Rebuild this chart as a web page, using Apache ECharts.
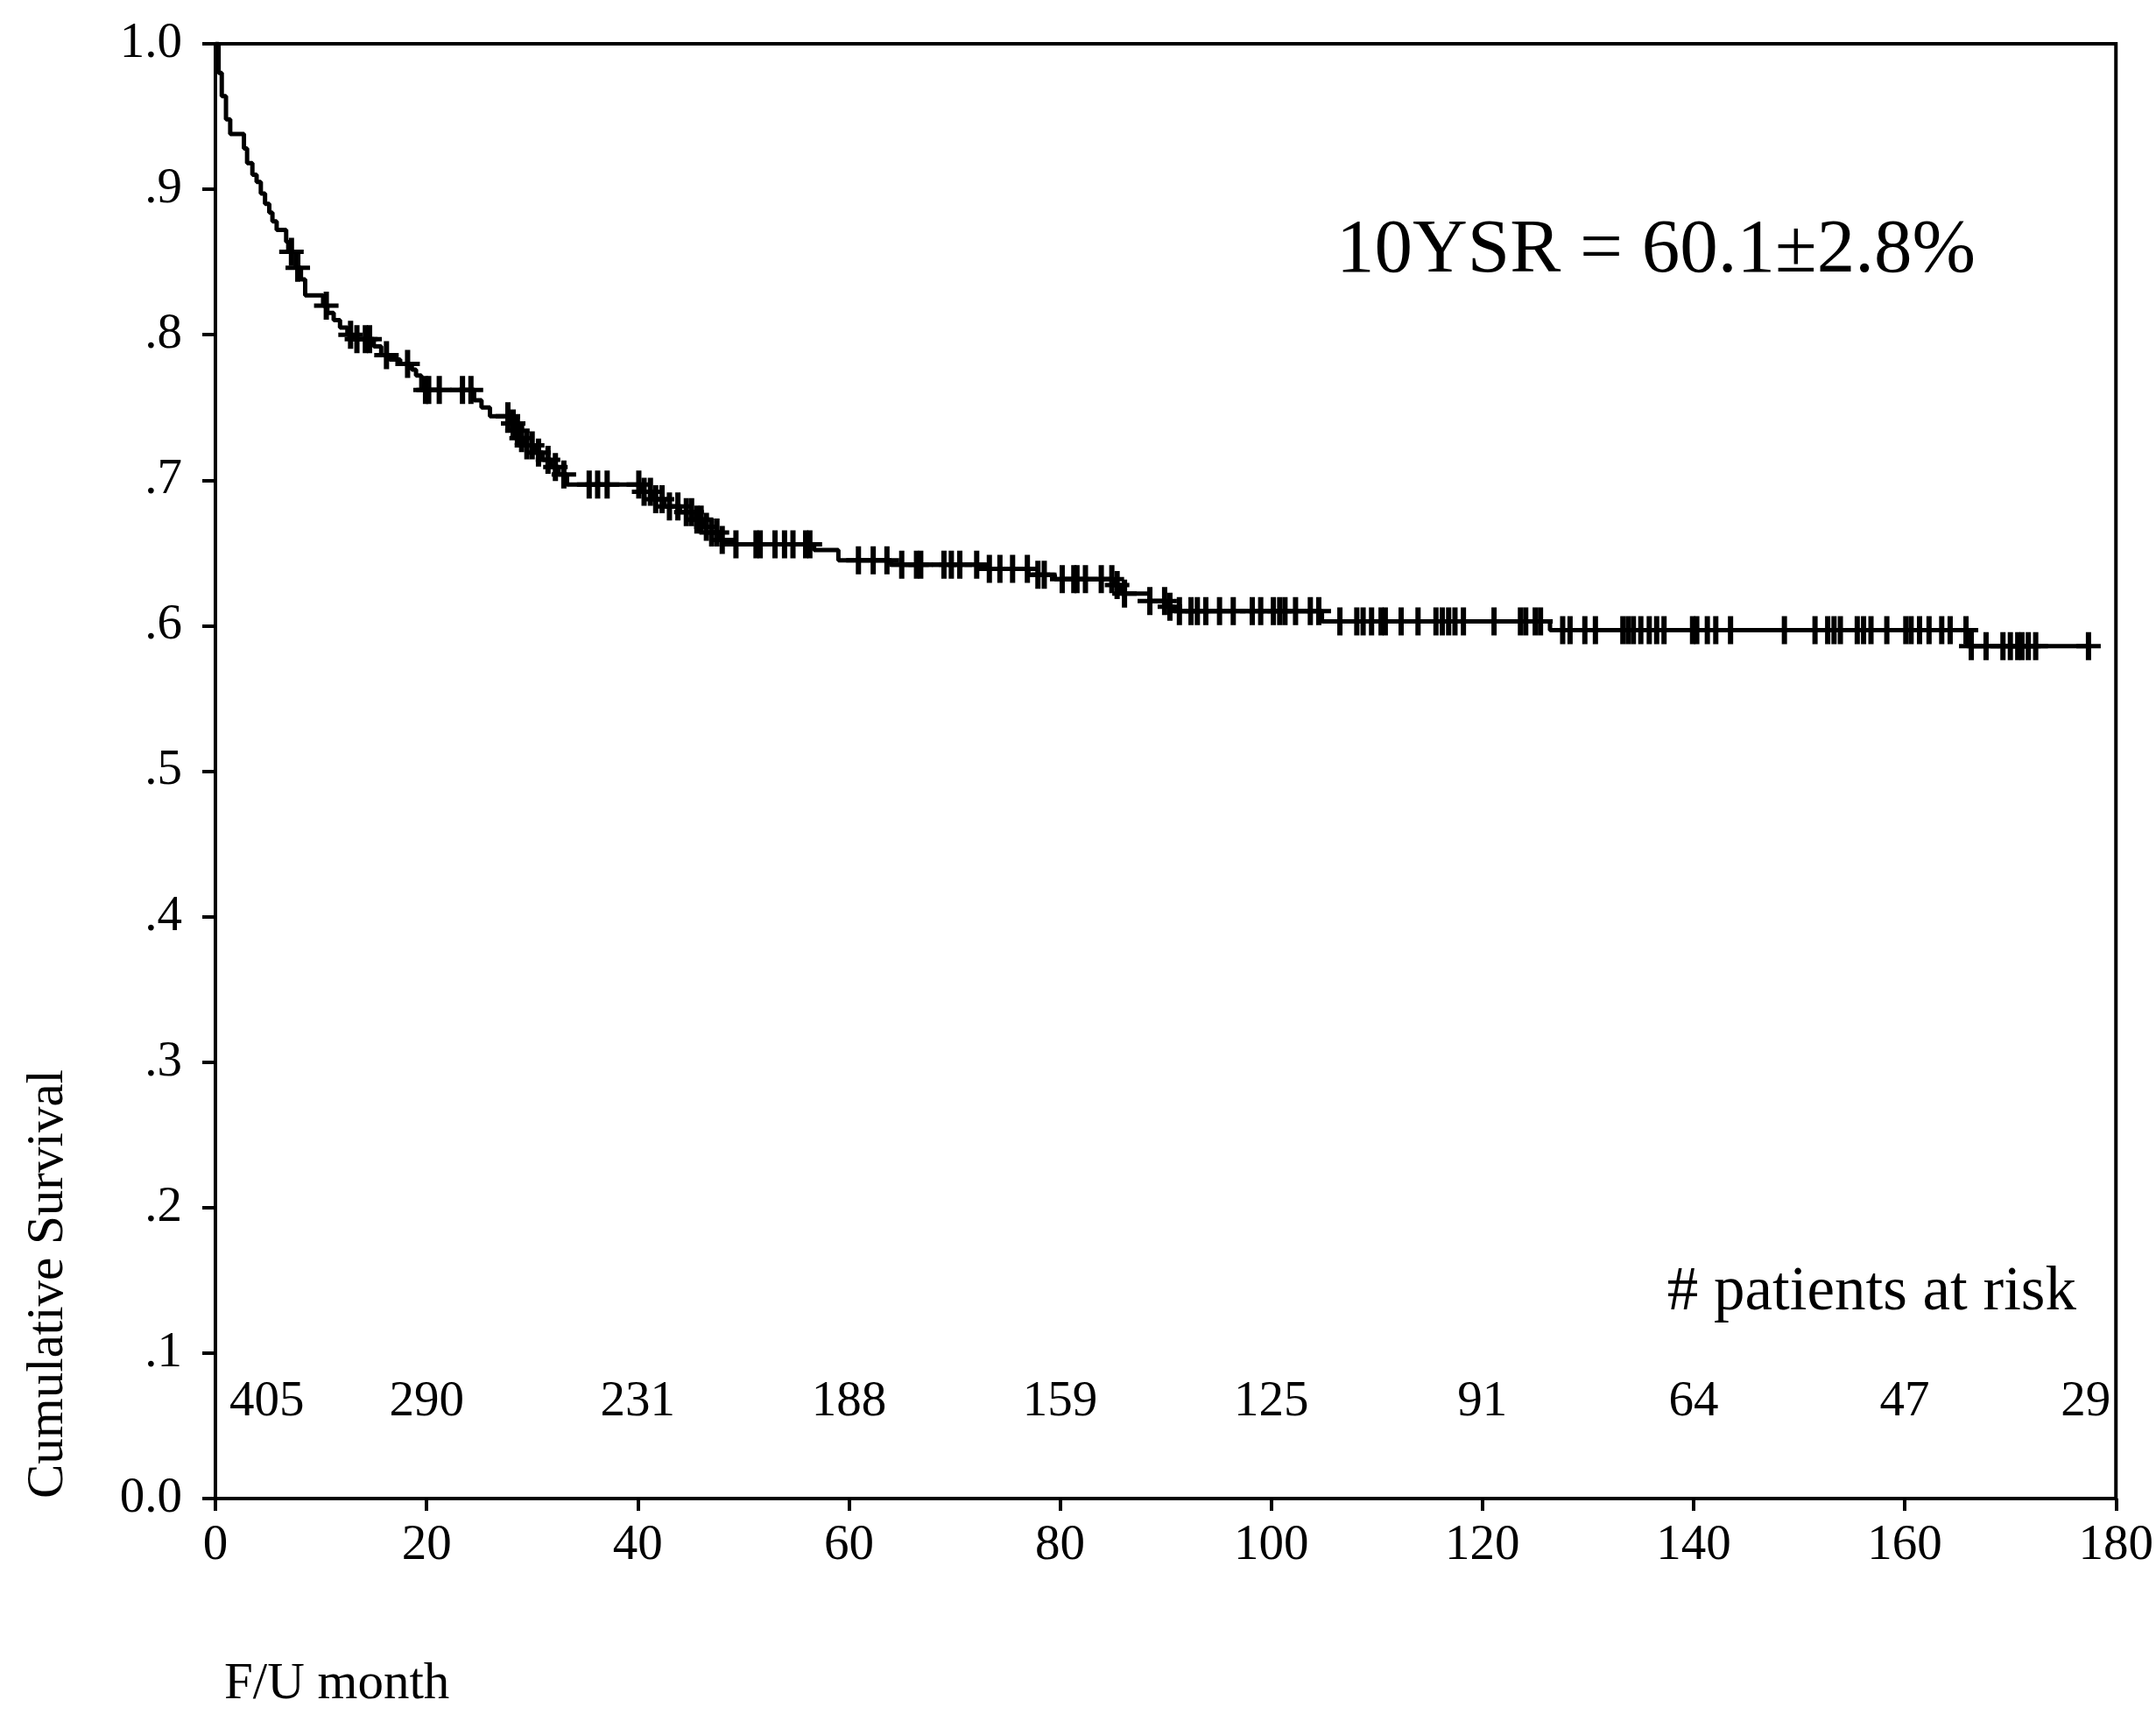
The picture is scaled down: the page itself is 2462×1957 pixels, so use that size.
<!DOCTYPE html>
<html>
<head>
<meta charset="utf-8">
<title>Cumulative Survival</title>
<script src="https://cdn.jsdelivr.net/npm/echarts@6/dist/echarts.min.js"></script>
<style>
  html, body { margin: 0; padding: 0; background: #fff; }
  #chart { width: 2462px; height: 1957px; }
</style>
</head>
<body>
<div id="chart"></div>
<script>
// Kaplan-Meier steps: month of each drop and survival after it
const stepMonths = [0, 0.3, 0.6, 1.0, 1.4, 2.7, 3.0, 3.5, 3.9, 4.3, 4.7, 5.1, 5.4, 5.8, 6.7, 6.9, 7.6, 8.1, 8.5, 10.2,
  10.6, 11.2, 11.8, 12.5, 13.0, 15.0, 15.7, 16.5, 17.5, 18.6, 19.0, 19.5, 24.5, 25.2, 26.0, 27.8, 28.3, 28.8, 29.4, 30.2,
  31.0, 31.8, 32.5, 33.3, 40.5, 41.5, 42.5, 44.0, 45.5, 46.3, 47.0, 47.8, 48.4, 56.7, 59.0, 64.0, 73.0, 77.0, 79.5, 85.0,
  85.8, 88.5, 90.2, 90.8, 104.8, 126.4, 165.9]
const stepSurvival = [1.0, 0.980, 0.964, 0.948, 0.938, 0.928, 0.918, 0.910, 0.905, 0.897, 0.890, 0.884, 0.878, 0.872, 0.864, 0.857, 0.846, 0.838, 0.827, 0.820,
  0.815, 0.810, 0.805, 0.800, 0.797, 0.792, 0.786, 0.783, 0.780, 0.776, 0.772, 0.762, 0.755, 0.750, 0.744, 0.739, 0.734, 0.729, 0.724, 0.719,
  0.714, 0.709, 0.704, 0.697, 0.692, 0.687, 0.682, 0.678, 0.673, 0.668, 0.664, 0.659, 0.656, 0.652, 0.645, 0.642, 0.639, 0.635, 0.632, 0.628,
  0.622, 0.617, 0.613, 0.610, 0.603, 0.597, 0.586]
const lastFollowUp = 177.4

// censored patients (months)
const censorMonths = [7.2, 7.8, 10.5, 12.8, 13.4, 14.2, 14.6, 16.2, 18.2, 19.9, 20.2, 21.2, 23.4, 24.2, 27.7, 28.2, 28.6, 29.0, 29.5,
  30.0, 30.6, 31.5, 32.2, 33.0, 35.4, 36.2, 37.1, 40.1, 40.6, 41.2, 41.7, 42.3, 43.0, 43.8, 44.6, 45.1, 45.6, 46.0, 46.5, 47.0,
  47.5, 48.0, 49.3, 51.2, 51.6, 53.0, 53.9, 54.7, 55.9, 56.3, 60.9, 62.3, 63.6, 65.0, 66.4, 66.8, 69.0, 69.7, 70.5, 72.1, 73.3,
  74.3, 75.5, 76.9, 77.9, 78.5, 80.2, 81.3, 81.6, 82.4, 83.9, 84.9, 85.4, 86.1, 88.5, 89.9, 90.4, 91.3, 92.4, 93.0, 93.8, 95.1,
  96.4, 98.2, 99.0, 100.2, 100.8, 101.3, 102.3, 103.7, 104.5, 106.5, 108.1, 108.7, 109.5, 110.4, 110.8, 112.3, 113.9, 115.6,
  116.2, 116.8, 117.4, 118.2, 121.1, 123.6, 124.1, 125.0, 125.5, 127.6, 128.3, 129.7, 130.7, 133.3, 133.8, 134.3, 135.0, 135.8,
  136.5, 137.2, 139.9, 140.3, 141.3, 142.1, 143.5, 148.6, 151.5, 152.7, 153.3, 153.9, 155.5, 156.1, 156.8, 158.3, 160.1, 160.6,
  161.4, 162.3, 163.5, 164.3, 165.8, 166.3, 167.7, 169.3, 170.0, 170.7, 171.1, 171.7, 172.4, 177.4]

// number at risk row
const atRiskMonths = [0, 20, 40, 60, 80, 100, 120, 140, 160, 180]
const atRiskCounts = [405, 290, 231, 188, 159, 125, 91, 64, 47, 29]

const xTicks = [0, 20, 40, 60, 80, 100, 120, 140, 160, 180]
const yTicks = [0, 0.1, 0.2, 0.3, 0.4, 0.5, 0.6, 0.7, 0.8, 0.9, 1.0]

const FONT = '"Liberation Serif", "Times New Roman", serif'
const atRiskRowY = 0.066

function survivalAt (t) {
  let s = stepSurvival[0]
  for (let i = 0; i < stepMonths.length; i++) {
    if (stepMonths[i] <= t) s = stepSurvival[i]
  }
  return s
}

const curveData = stepMonths.map((m, i) => [m, stepSurvival[i]])
curveData.push([lastFollowUp, stepSurvival[stepSurvival.length - 1]])

const censorData = censorMonths.map(m => [m, survivalAt(m)])

const atRiskData = atRiskMonths.map((m, i) => {
  let align = 'center'
  let offset = [0, 0]
  if (i === 0) { align = 'left'; offset = [16, 0] }
  if (i === atRiskMonths.length - 1) { align = 'right'; offset = [-6, 0] }
  return {
    value: [m, atRiskRowY],
    label: { show: true, formatter: String(atRiskCounts[i]), align: align, offset: offset }
  }
})

const chart = echarts.init(document.getElementById('chart'))

const option = {
  backgroundColor: '#fff',
  animation: false,
  grid: {
    left: 246,
    right: 45,
    top: 50,
    bottom: 246,
    show: true,
    borderColor: '#000',
    borderWidth: 4,
    backgroundColor: 'transparent'
  },
  xAxis: {
    type: 'value',
    min: xTicks[0],
    max: xTicks[xTicks.length - 1],
    interval: 20,
    splitLine: { show: false },
    axisLine: { show: true, lineStyle: { color: '#000', width: 4 } },
    axisTick: { show: true, inside: false, length: 14, lineStyle: { color: '#000', width: 4 } },
    axisLabel: { color: '#000', fontFamily: FONT, fontSize: 57, margin: 26 }
  },
  yAxis: {
    type: 'value',
    min: yTicks[0],
    max: yTicks[yTicks.length - 1],
    interval: 0.1,
    splitLine: { show: false },
    axisLine: { show: true, lineStyle: { color: '#000', width: 4 } },
    axisTick: { show: true, inside: false, length: 15, lineStyle: { color: '#000', width: 4 } },
    axisLabel: {
      color: '#000',
      fontFamily: FONT,
      fontSize: 57,
      margin: 38,
      formatter: function (v) {
        if (Math.abs(v) < 1e-9) return '0.0'
        if (Math.abs(v - 1) < 1e-9) return '1.0'
        return v.toFixed(1).replace(/^0/, '')
      }
    }
  },
  graphic: [
    {
      type: 'text',
      x: 1526,
      y: 287,
      style: { text: '10YSR = 60.1±2.8%', fontFamily: FONT, fontSize: 87, fill: '#000', align: 'left', verticalAlign: 'middle' }
    },
    {
      type: 'text',
      x: 2371,
      y: 1476,
      style: { text: '# patients at risk', fontFamily: FONT, fontSize: 71, fill: '#000', align: 'right', verticalAlign: 'middle' }
    },
    {
      type: 'text',
      x: 55,
      y: 1711,
      rotation: Math.PI / 2,
      style: { text: 'Cumulative Survival', fontFamily: FONT, fontSize: 59, fill: '#000', align: 'left', verticalAlign: 'middle' }
    },
    {
      type: 'text',
      x: 256,
      y: 1923,
      style: { text: 'F/U month', fontFamily: FONT, fontSize: 59, fill: '#000', align: 'left', verticalAlign: 'middle' }
    }
  ],
  series: [
    {
      name: 'survival',
      type: 'line',
      step: 'end',
      data: curveData,
      showSymbol: false,
      lineStyle: { color: '#000', width: 5 },
      z: 3
    },
    {
      name: 'censored',
      type: 'scatter',
      data: censorData,
      symbol: 'path://M0 13.5H28V18.5H0Z M11 0H17V32H11Z',
      symbolSize: [28, 32],
      itemStyle: { color: '#000', opacity: 1 },
      z: 4
    },
    {
      name: 'at risk',
      type: 'scatter',
      data: atRiskData,
      symbolSize: 0,
      itemStyle: { color: '#000', opacity: 1 },
      label: {
        show: true,
        position: 'inside',
        color: '#000',
        opacity: 1,
        textBorderWidth: 0,
        fontFamily: FONT,
        fontSize: 57
      },
      silent: true,
      z: 2
    }
  ]
}

chart.setOption(option)
</script>
</body>
</html>
